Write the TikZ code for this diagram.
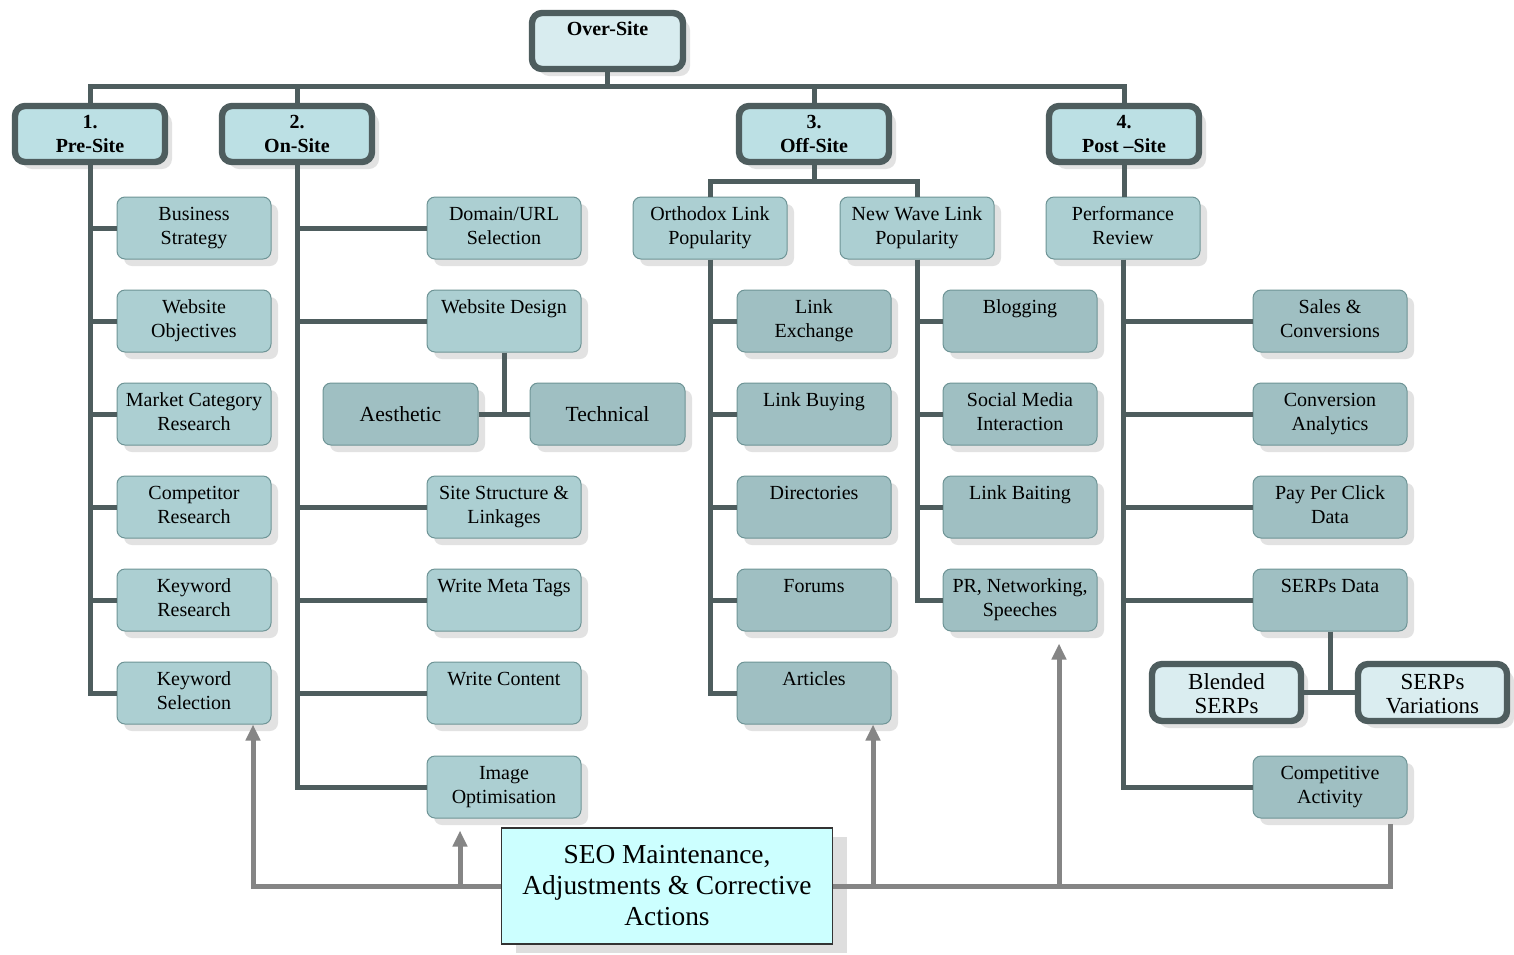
\documentclass[tikz,border=0pt]{standalone}
\usepackage{fontspec}
\setmainfont{Liberation Serif}
\usetikzlibrary{shadows,arrows.meta,calc}
\definecolor{lineC}{HTML}{4E5D5E}
\definecolor{hdrF}{HTML}{BCE0E4}
\definecolor{overF}{HTML}{D8ECEF}
\definecolor{lvlTwoF}{HTML}{ACCFD2}
\definecolor{lvlThreeF}{HTML}{9FBFC2}
\definecolor{blF}{HTML}{DAEDF0}
\definecolor{bordC}{HTML}{6E9496}
\definecolor{seoF}{HTML}{CCFFFF}
\definecolor{fbC}{HTML}{858585}
\newcommand\ctx[1]{\parbox[c][31pt][t]{77pt}{\centering\fontsize{10}{12}\selectfont\rule{0pt}{11.5pt}#1\par}}
\newcommand\hdtx[1]{\parbox[c][28pt][t]{75pt}{\centering\fontsize{10}{12}\selectfont\bfseries\rule{0pt}{11pt}#1\par}}
\newcommand\bltx[1]{\parbox[c][28.5pt][t]{74.5pt}{\centering\fontsize{11.5}{12}\selectfont\rule{0pt}{12.5pt}#1\par}}
\tikzset{
  shad/.style={drop shadow={shadow xshift=3.5pt,shadow yshift=-3.5pt,fill=black!22}},
  lvltwo/.style={draw=bordC,line width=0.5pt,fill=lvlTwoF,rounded corners=4pt,inner sep=0pt,minimum width=77pt,minimum height=31pt,shad},
  lvlthree/.style={lvltwo,fill=lvlThreeF},
  hdr/.style={draw=lineC,line width=3.2pt,fill=hdrF,rounded corners=5pt,inner sep=0pt,minimum width=75pt,minimum height=28pt,shad},
  overbox/.style={hdr,fill=overF,minimum width=75.5pt},
  blbox/.style={hdr,fill=blF,minimum width=74.5pt,minimum height=28.5pt},
  midbox/.style={lvlthree,minimum width=77.5pt,font=\fontsize{10.8}{12}\selectfont},
  seobox/.style={draw=black!80,line width=0.8pt,fill=seoF,minimum width=165.5pt,minimum height=58pt,align=center,inner sep=0pt,
    font=\fontsize{13.7}{15.5}\selectfont,drop shadow={shadow xshift=7pt,shadow yshift=-4.5pt,fill=black!25}},
  conn/.style={draw=lineC,line width=2.5pt},
  fb/.style={draw=fbC,line width=2.5pt},
  fbarrow/.style={fb,-{Triangle[width=7pt,length=8pt]}}
}
\begin{document}
\begin{tikzpicture}[x=0.5pt,y=-0.5pt]
\useasboundingbox (0,0) rectangle (1514,954);
\fill[white] (0,0) rectangle (1514,954);
% top level
\node[overbox] (over) at (607.5,41) {\hdtx{Over-Site}};
\node[hdr] (h1) at (90,134) {\hdtx{1.\\Pre-Site}};
\node[hdr] (h2) at (297,134) {\hdtx{2.\\On-Site}};
\node[hdr] (h3) at (814,134) {\hdtx{3.\\Off-Site}};
\node[hdr] (h4) at (1124,134) {\hdtx{4.\\Post –Site}};
% pre-site
\node[lvltwo] (p1) at (194,228) {\ctx{Business\\Strategy}};
\node[lvltwo] (p2) at (194,321) {\ctx{Website\\Objectives}};
\node[lvltwo] (p3) at (194,414) {\ctx{Market Category\\Research}};
\node[lvltwo] (p4) at (194,507) {\ctx{Competitor\\Research}};
\node[lvltwo] (p5) at (194,600) {\ctx{Keyword\\Research}};
\node[lvltwo] (p6) at (194,693) {\ctx{Keyword\\Selection}};
% on-site
\node[lvltwo] (o1) at (504,228) {\ctx{Domain/URL\\Selection}};
\node[lvltwo] (o2) at (504,321) {\ctx{Website Design}};
\node[lvltwo] (o3) at (504,507) {\ctx{Site Structure \&\\Linkages}};
\node[lvltwo] (o4) at (504,600) {\ctx{Write Meta Tags}};
\node[lvltwo] (o5) at (504,693) {\ctx{Write Content}};
\node[lvltwo] (o6) at (504,787) {\ctx{Image\\Optimisation}};
\node[midbox] (aes) at (400.5,414) {Aesthetic};
\node[midbox] (tech) at (607.5,414) {Technical};
% off-site
\node[lvltwo] (ortho) at (710,228) {\ctx{Orthodox Link\\Popularity}};
\node[lvltwo] (nw) at (917,228) {\ctx{New Wave Link\\Popularity}};
\node[lvlthree] (oc1) at (814,321) {\ctx{Link\\Exchange}};
\node[lvlthree] (oc2) at (814,414) {\ctx{Link Buying}};
\node[lvlthree] (oc3) at (814,507) {\ctx{Directories}};
\node[lvlthree] (oc4) at (814,600) {\ctx{Forums}};
\node[lvlthree] (oc5) at (814,693) {\ctx{Articles}};
\node[lvlthree] (nc1) at (1020,321) {\ctx{Blogging}};
\node[lvlthree] (nc2) at (1020,414) {\ctx{Social Media\\Interaction}};
\node[lvlthree] (nc3) at (1020,507) {\ctx{Link Baiting}};
\node[lvlthree] (nc4) at (1020,600) {\ctx{PR, Networking,\\Speeches}};
% post-site
\node[lvltwo] (perf) at (1123,228) {\ctx{Performance\\Review}};
\node[lvlthree] (pc1) at (1330,321) {\ctx{Sales \&\\Conversions}};
\node[lvlthree] (pc2) at (1330,414) {\ctx{Conversion\\Analytics}};
\node[lvlthree] (pc3) at (1330,507) {\ctx{Pay Per Click\\Data}};
\node[lvlthree] (pc4) at (1330,600) {\ctx{SERPs Data}};
\node[lvlthree] (pc5) at (1330,787) {\ctx{Competitive\\Activity}};
\node[blbox] (bl) at (1226.5,692.5) {\bltx{Blended\\SERPs}};
\node[blbox] (sv) at (1432.5,692.5) {\bltx{SERPs\\Variations}};
% SEO
\node[seobox] (seo) at (667,886) {SEO Maintenance,\\Adjustments \& Corrective\\Actions};
% top connectors
\draw[conn] (h1.north) -- ++(0,-16) -| (h4.north);
\draw[conn] (h2.north) -- ++(0,-16);
\draw[conn] (h3.north) -- ++(0,-16);
\draw[conn] (over.south) -- ++(0,15);
% pre-site column
\draw[conn] (h1.south) |- (p6.west);
\foreach \n in {p1,p2,p3,p4,p5} \draw[conn] (h1.south |- \n.west) -- (\n.west);
% on-site column
\draw[conn] (h2.south) |- (o6.west);
\foreach \n in {o1,o2,o3,o4,o5} \draw[conn] (h2.south |- \n.west) -- (\n.west);
\draw[conn] (o2.south) -- (o2.south |- aes.east);
\draw[conn] (aes.east) -- (tech.west);
% off-site
\coordinate (ob) at ($(h3.south)+(0,16)$);
\draw[conn] (h3.south) -- (ob);
\draw[conn] (ortho.north) |- (ob) -| (nw.north);
\draw[conn] (ortho.south) |- (oc5.west);
\foreach \n in {oc1,oc2,oc3,oc4} \draw[conn] (ortho.south |- \n.west) -- (\n.west);
\draw[conn] (nw.south) |- (nc4.west);
\foreach \n in {nc1,nc2,nc3} \draw[conn] (nw.south |- \n.west) -- (\n.west);
% post-site
\draw[conn] (h4.south) -- (h4.south |- perf.north);
\draw[conn] (perf.south) |- (pc5.west);
\foreach \n in {pc1,pc2,pc3,pc4} \draw[conn] (perf.south |- \n.west) -- (\n.west);
\draw[conn] (pc4.south) -- (pc4.south |- bl.east);
\draw[conn] (bl.east) -- (sv.west);
% feedback
\coordinate (ka) at ($(p6.south)+(59,0)$);
\coordinate (ia) at ($(o6.south)+(-44,0)$);
\coordinate (aa) at ($(oc5.south)+(59,0)$);
\coordinate (pa) at ($(nc4.south)+(39,0)$);
\coordinate (ca) at ($(pc5.south)+(60,0)$);
\draw[fbarrow] (seo.west) -| (ka);
\draw[fbarrow,shorten >=6pt] (ia |- seo.west) -- (ia);
\draw[fbarrow] (aa |- seo.east) -- (aa);
\draw[fbarrow,shorten >=6pt] (pa |- seo.east) -- (pa);
\draw[fb,shorten >=2.5pt] (seo.east) -| (ca);
\end{tikzpicture}
\end{document}
